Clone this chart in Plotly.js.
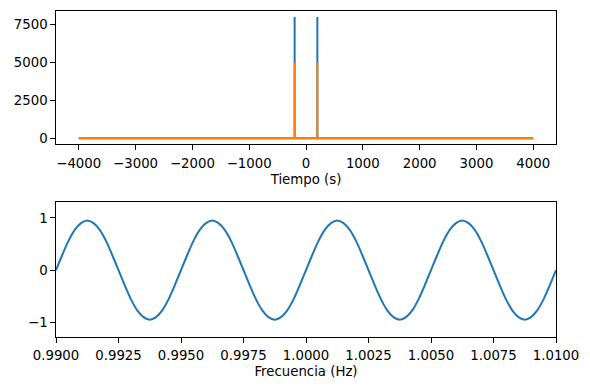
<!DOCTYPE html>
<html>
<head>
<meta charset="utf-8">
<script src="https://cdn.plot.ly/plotly-3.0.1.min.js"></script>
<style>html,body{margin:0;padding:0;background:#fff;}#chart{width:590px;height:390px;}</style>
</head>
<body>
<div id="chart"></div>
<script>
// Top panel (Tiempo)
const tiempoX = [-4000, -200.5, -200, -199.5, 199.5, 200, 200.5, 4000];
const serieAzul = [0, 0, 8000, 0, 0, 8000, 0, 0];
const serieNaranja = [0, 0, 5000, 0, 0, 5000, 0, 0];
const tiempoTicks = [-4000, -3000, -2000, -1000, 0, 1000, 2000, 3000, 4000];
const amplitudTicks = [0, 2500, 5000, 7500];

// Bottom panel (Frecuencia)
const frecX = [0.99, 0.99025, 0.9905, 0.99075, 0.991, 0.99125, 0.9915, 0.99175, 0.992, 0.99225,
  0.9925, 0.99275, 0.993, 0.99325, 0.9935, 0.99375, 0.994, 0.99425, 0.9945, 0.99475,
  0.995, 0.99525, 0.9955, 0.99575, 0.996, 0.99625, 0.9965, 0.99675, 0.997, 0.99725,
  0.9975, 0.99775, 0.998, 0.99825, 0.9985, 0.99875, 0.999, 0.99925, 0.9995, 0.99975,
  1.0, 1.00025, 1.0005, 1.00075, 1.001, 1.00125, 1.0015, 1.00175, 1.002, 1.00225,
  1.0025, 1.00275, 1.003, 1.00325, 1.0035, 1.00375, 1.004, 1.00425, 1.0045, 1.00475,
  1.005, 1.00525, 1.0055, 1.00575, 1.006, 1.00625, 1.0065, 1.00675, 1.007, 1.00725,
  1.0075, 1.00775, 1.008, 1.00825, 1.0085, 1.00875, 1.009, 1.00925, 1.0095, 1.00975, 1.01];
const frecY = [0, 0.29, 0.56, 0.77, 0.9, 0.95, 0.9, 0.77, 0.56, 0.29, 0, -0.29, -0.56, -0.77, -0.9, -0.95, -0.9, -0.77, -0.56, -0.29,
  0, 0.29, 0.56, 0.77, 0.9, 0.95, 0.9, 0.77, 0.56, 0.29, 0, -0.29, -0.56, -0.77, -0.9, -0.95, -0.9, -0.77, -0.56, -0.29,
  0, 0.29, 0.56, 0.77, 0.9, 0.95, 0.9, 0.77, 0.56, 0.29, 0, -0.29, -0.56, -0.77, -0.9, -0.95, -0.9, -0.77, -0.56, -0.29,
  0, 0.29, 0.56, 0.77, 0.9, 0.95, 0.9, 0.77, 0.56, 0.29, 0, -0.29, -0.56, -0.77, -0.9, -0.95, -0.9, -0.77, -0.56, -0.29,
  0];
const frecTicks = [0.99, 0.9925, 0.995, 0.9975, 1.0, 1.0025, 1.005, 1.0075, 1.01];
const senalTicks = [-1, 0, 1];

const font = {family: 'DejaVu Sans, sans-serif', size: 13.3, color: '#000'};
const axisBase = {
  showline: true, mirror: true, linecolor: '#000', linewidth: 1,
  ticks: 'outside', ticklen: 4.7, tickwidth: 1, tickcolor: '#000',
  showgrid: false, zeroline: false, tickfont: font
};

const traces = [
  {x: tiempoX, y: serieAzul, type: 'scatter', mode: 'lines', line: {color: '#1f77b4', width: 2}, xaxis: 'x', yaxis: 'y', hoverinfo: 'skip'},
  {x: tiempoX, y: serieNaranja, type: 'scatter', mode: 'lines', line: {color: '#ff7f0e', width: 2}, xaxis: 'x', yaxis: 'y', hoverinfo: 'skip'},
  {x: frecX, y: frecY, type: 'scatter', mode: 'lines', line: {color: '#1f77b4', width: 2, shape: 'spline', smoothing: 1}, xaxis: 'x2', yaxis: 'y2', hoverinfo: 'skip'}
];

const layout = {
  width: 590, height: 390,
  margin: {l: 56, r: 34, t: 11, b: 53, pad: 0},
  paper_bgcolor: '#fff', plot_bgcolor: '#fff',
  showlegend: false,
  font: font,
  xaxis: Object.assign({}, axisBase, {
    domain: [0, 1], anchor: 'y', range: [-4400, 4400],
    tickvals: tiempoTicks, ticklabelstandoff: 2,
    title: {text: 'Tiempo (s)', font: font, standoff: 4}
  }),
  yaxis: Object.assign({}, axisBase, {
    domain: [0.5911, 1], anchor: 'x', range: [-400, 8400],
    tickvals: amplitudTicks
  }),
  xaxis2: Object.assign({}, axisBase, {
    domain: [0, 1], anchor: 'y2', range: [0.99, 1.01],
    tickvals: frecTicks, tickformat: '.4f', ticklabelstandoff: 1,
    title: {text: 'Frecuencia (Hz)', font: font, standoff: 5}
  }),
  yaxis2: Object.assign({}, axisBase, {
    domain: [0, 0.4141], anchor: 'x2', range: [-1.28, 1.305],
    tickvals: senalTicks
  })
};

Plotly.newPlot('chart', traces, layout, {staticPlot: true, displayModeBar: false});
</script>
</body>
</html>
